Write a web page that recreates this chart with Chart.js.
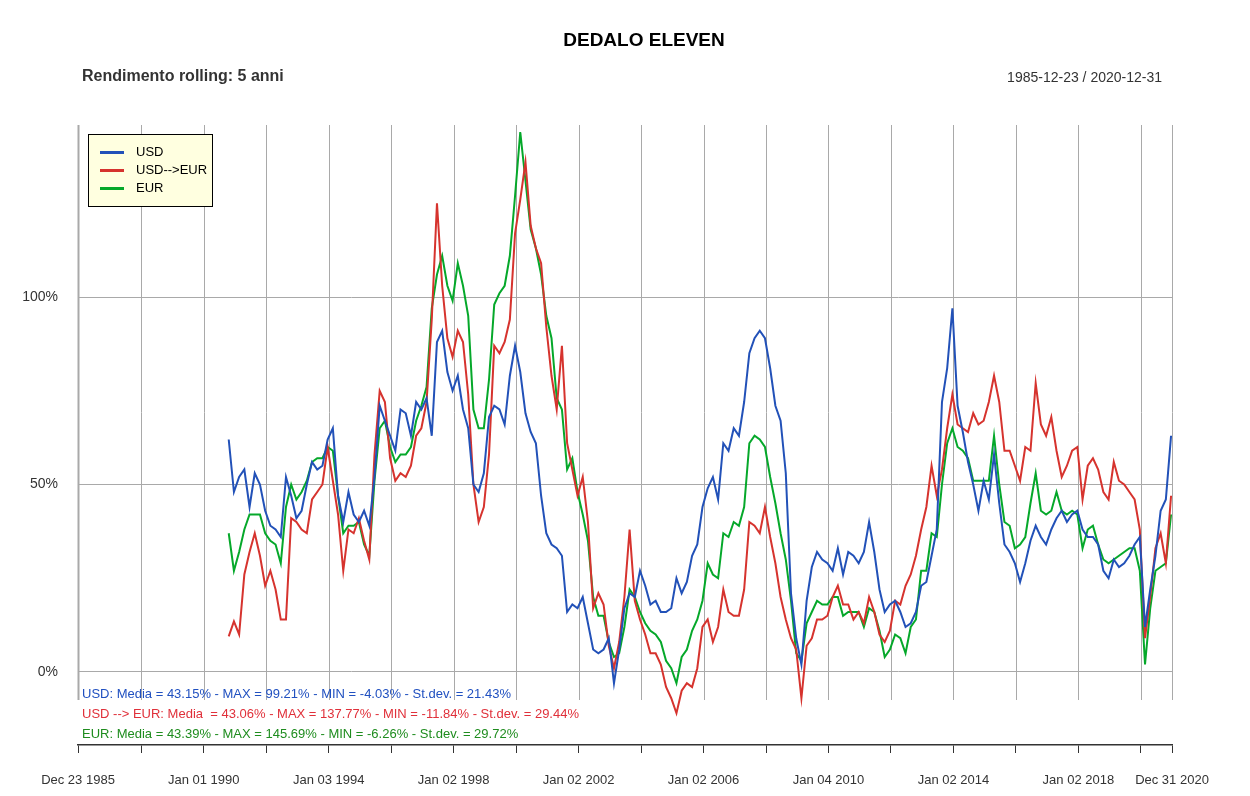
<!DOCTYPE html>
<html><head><meta charset="utf-8">
<script src="https://cdn.jsdelivr.net/npm/chart.js@4/dist/chart.umd.min.js"></script>
<style>html,body{margin:0;padding:0;background:#fff;}#wrap{position:relative;width:1250px;height:796px;}</style>
</head><body><div id="wrap"><canvas id="c" width="1250" height="796"></canvas></div>
<script>
// ---- data (rolling 5-year return, %) sampled every 2 months from late 1990 ----
const startYear = 1990.8;
const stepYears = 1 / 6;
const usd = [62,48,52,54,44,53,50,43,39,38,36,52,47,41,43,50,56,54,55,62,65,47,40,
  48,42,40,43,39,52,71,67,63,59,70,69,63,72,70,73,63,88,91,80,75,79,
  70,65,50,48,53,68,71,70,66,79,87,80,69,64,61,47,37,34,33,31,16,18,
  17,20,13,6,5,6,9,-3,6,17,21,20,27,23,18,19,16,16,17,25,21,24,
  31,34,44,49,52,46,61,59,65,63,72,85,89,91,89,81,71,67,53,21,9,2,
  19,28,32,30,29,27,33,26,32,31,29,32,40,32,22,16,18,19,16,12,13,16,
  23,24,31,38,72,81,97,71,64,56,50,43,51,46,58,45,34,32,29,24,29,35,39,
  36,34,38,41,43,40,42,43,38,36,36,34,27,25,30,28,29,31,34,36,12,22,31,43,46,63];
const usdEur = [9.5,13.5,10,26,32,37,31,23,27,22,14,14,41,40,38,37,46,48,50,60,51,42,27,
  38,37,41,35,30,58,75,72,57,51,53,52,55,63,65,72,94,125,103,89,84,91,
  88,74,50,40,44,58,87,85,88,94,117,126,136,119,113,109,92,79,70,87,61,54,
  47,52,40,17,21,18,7,1,8,20,38,19,14,10,5,5,2,-4,-7,-11,-5,-3,
  -4,1,12,14,8,12,22,16,15,15,22,40,39,37,44,36,29,20,14,9,6,-7,
  7,9,14,14,15,20,23,18,18,14,16,13,20,16,10,8,11,19,18,23,26,31,
  38,44,55,47,54,65,74,66,65,64,69,66,67,72,79,72,59,59,55,51,60,59,77,
  66,63,68,59,52,55,59,60,46,55,57,54,48,46,56,51,50,48,46,38,9,20,33,37,29,47];
const eur = [37,27,32,38,42,42,42,37,35,34,29,44,50,46,48,51,56,57,57,60,59,47,37,
  39,39,40,34,31,51,65,67,60,56,58,58,60,67,71,76,97,106,111,103,99,109,
  103,95,70,65,65,78,98,101,103,111,127,144,131,118,113,106,95,89,73,70,54,57,
  48,42,35,20,15,15,8,4,5,12,22,20,16,13,11,10,8,3,1,-3,4,6,
  11,14,19,29,26,25,37,36,40,39,44,61,63,62,60,52,45,37,30,19,5,3,
  13,16,19,18,18,20,20,15,16,16,16,12,17,16,11,4,6,10,9,5,12,14,
  27,27,37,36,50,61,65,60,59,57,51,51,51,51,63,50,40,39,33,34,36,45,53,
  43,42,43,48,43,42,43,42,33,38,39,34,30,29,30,31,32,33,33,27,2,17,27,28,29,42];

const seriesNames = ['USD', 'USD-->EUR', 'EUR'];
const seriesColors = ['#2251B8', '#D6332E', '#05A82A'];
const statsLines = [
  'USD: Media = 43.15% - MAX = 99.21% - MIN = -4.03% - St.dev. = 21.43%',
  'USD --> EUR: Media  = 43.06% - MAX = 137.77% - MIN = -11.84% - St.dev. = 29.44%',
  'EUR: Media = 43.39% - MAX = 145.69% - MIN = -6.26% - St.dev. = 29.72%'];
const statsColors = ['#2050C0', '#E0303A', '#1E8C1E'];

const xTickDates = [1985.975,1988,1990,1992,1994,1996,1998,2000,2002,2004,2006,2008,2010,2012,2014,2016,2018,2020,2020.997];
const xTickLabels = ['Dec 23 1985','','Jan 01 1990','','Jan 03 1994','','Jan 02 1998','','Jan 02 2002','','Jan 02 2006','','Jan 04 2010','','Jan 02 2014','','Jan 02 2018','','Dec 31 2020'];
const yTickValues = [0, 50, 100];
const yTickLabels = ['0%', '50%', '100%'];

const titleText = 'DEDALO ELEVEN';
const subtitleText = 'Rendimento rolling: 5 anni';
const rangeText = '1985-12-23 / 2020-12-31';

const FONT = '"Liberation Sans", Arial, Helvetica, sans-serif';
const toPoints = arr => arr.map((v, i) => ({ x: startYear + i * stepYears, y: v }));

const gridPlugin = {
  id: 'vgrid',
  beforeDatasetsDraw(chart) {
    const { ctx, chartArea, scales } = chart;
    ctx.save();
    ctx.strokeStyle = '#a9a9a9';
    xTickDates.forEach((d, i) => {
      const px = Math.round(scales.x.getPixelForValue(d)) + 0.5;
      ctx.lineWidth = (i === 0) ? 2 : 1;
      ctx.beginPath();
      ctx.moveTo(px, chartArea.top);
      ctx.lineTo(px, chartArea.bottom - 45);
      ctx.stroke();
    });
    ctx.restore();
  }
};

const decorPlugin = {
  id: 'decor',
  afterDraw(chart) {
    const { ctx } = chart;
    ctx.save();
    ctx.textBaseline = 'middle';
    ctx.fillStyle = '#000';
    ctx.font = 'bold 19px ' + FONT;
    ctx.textAlign = 'center';
    ctx.fillText(titleText, 644, 41);
    ctx.fillStyle = '#333';
    ctx.font = 'bold 16px ' + FONT;
    ctx.textAlign = 'left';
    ctx.fillText(subtitleText, 82, 77);
    ctx.font = '14px ' + FONT;
    ctx.textAlign = 'right';
    ctx.fillText(rangeText, 1162, 78);
    ctx.font = '13px ' + FONT;
    ctx.textAlign = 'left';
    statsLines.forEach((s, i) => {
      ctx.fillStyle = statsColors[i];
      ctx.fillText(s, 82, 694 + i * 20);
    });
    ctx.fillStyle = '#FFFFE0';
    ctx.fillRect(88.5, 134.5, 124, 72);
    ctx.strokeStyle = '#000';
    ctx.lineWidth = 1;
    ctx.strokeRect(88.5, 134.5, 124, 72);
    chart.data.datasets.forEach((ds, i) => {
      const y = 152.5 + i * 18;
      ctx.strokeStyle = ds.borderColor;
      ctx.lineWidth = 3;
      ctx.beginPath();
      ctx.moveTo(100, y);
      ctx.lineTo(124, y);
      ctx.stroke();
      ctx.fillStyle = '#000';
      ctx.font = '13px ' + FONT;
      ctx.fillText(ds.label, 136, y);
    });
    ctx.restore();
  }
};

const mk = (arr, i) => ({
  label: seriesNames[i], data: toPoints(arr), borderColor: seriesColors[i],
  backgroundColor: seriesColors[i], borderWidth: 2, pointRadius: 0, tension: 0, fill: false
});

new Chart(document.getElementById('c'), {
  type: 'line',
  data: { datasets: [mk(usd, 0), mk(usdEur, 1), mk(eur, 2)] },
  options: {
    responsive: false, animation: false, devicePixelRatio: 1,
    layout: { padding: { top: 125, right: 78, left: 0, bottom: 0 } },
    plugins: { legend: { display: false }, tooltip: { enabled: false }, title: { display: false } },
    scales: {
      x: {
        type: 'linear', min: 1985.975, max: 2020.997,
        afterBuildTicks: s => { s.ticks = xTickDates.map(v => ({ value: v })); },
        afterFit: s => { s.height = 51; },
        ticks: { autoSkip: false, maxRotation: 0, padding: 20, color: '#333',
          font: { family: FONT, size: 13 }, callback: (v, i) => xTickLabels[i] },
        grid: { drawOnChartArea: false, drawTicks: true, tickLength: 8, color: '#333', lineWidth: 1 },
        border: { display: true, color: '#333', width: 1.5 }
      },
      y: {
        min: -19.47, max: 145.87,
        afterBuildTicks: s => { s.ticks = yTickValues.map(v => ({ value: v })); },
        afterFit: s => { s.width = 78; },
        ticks: { padding: 20, color: '#333', font: { family: FONT, size: 14 },
          callback: (v, i) => yTickLabels[i] },
        grid: { color: '#a9a9a9', lineWidth: 1, drawTicks: false },
        border: { display: false }
      }
    }
  },
  plugins: [gridPlugin, decorPlugin]
});
</script></body></html>
